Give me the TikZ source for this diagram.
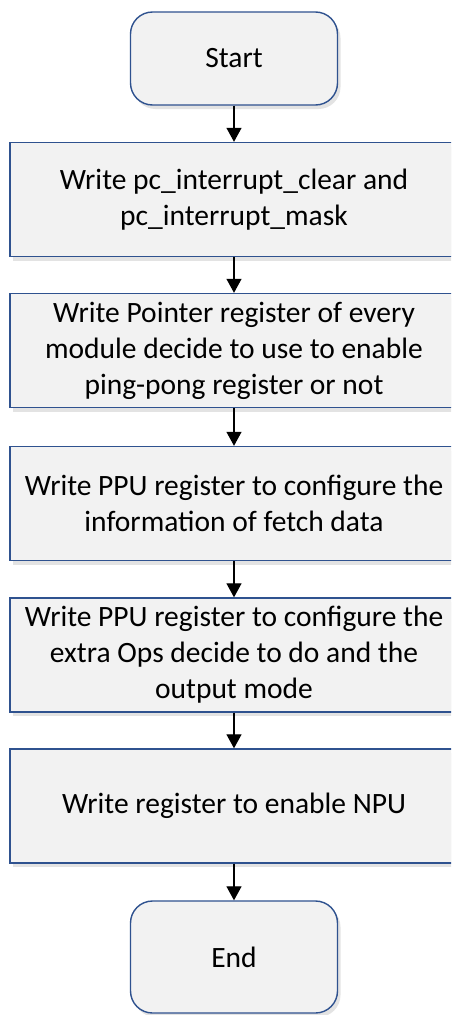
\documentclass[tikz,border=0pt]{standalone}
\usepackage{fontspec}
\setmainfont{Carlito}
\usetikzlibrary{arrows.meta,shadows}
\definecolor{boxfill}{RGB}{242,242,242}
\definecolor{boxline}{RGB}{47,82,143}
\tikzset{
    stepbox/.style={draw=boxline, fill=boxfill, line width=1.4pt,
        minimum width=448pt, minimum height=114pt, align=center,
        font=\fontsize{29.5}{36}\selectfont,
        drop shadow={shadow xshift=3pt, shadow yshift=-4pt, opacity=0.22}},
    termbox/.style={stepbox, rounded corners=22pt,
        minimum width=207pt},
    flow/.style={-{Triangle[length=14pt,width=15pt]}, line width=1.3pt}
}
\begin{document}
\begin{tikzpicture}[x=1pt, y=-1pt]
\useasboundingbox (0,0) rectangle (451,1015);
\clip (0,0) rectangle (451,1015);
\fill[white] (0,0) rectangle (451,1015);
\node[termbox, minimum height=93pt] (start) at (234,58.5) {Start};
\node[stepbox] (clear) at (234,199.5)
    {Write pc\_interrupt\_clear and\\pc\_interrupt\_mask};
\node[stepbox] (pointer) at (234,350.5)
    {Write Pointer register of every\\module decide to use to enable\\ping-pong register or not};
\node[stepbox] (fetch) at (234,503.5)
    {Write PPU register to configure the\\information of fetch data};
\node[stepbox] (extra) at (234,655)
    {Write PPU register to configure the\\extra Ops decide to do and the\\output mode};
\node[stepbox] (npu) at (234,806) {Write register to enable NPU};
\node[termbox, minimum height=112pt] (end) at (234,957) {End};
\foreach \a/\b in {start/clear, clear/pointer, pointer/fetch,
    fetch/extra, extra/npu, npu/end}
{
    \draw[flow] (\a) -- (\b);
}
\end{tikzpicture}
\end{document}
